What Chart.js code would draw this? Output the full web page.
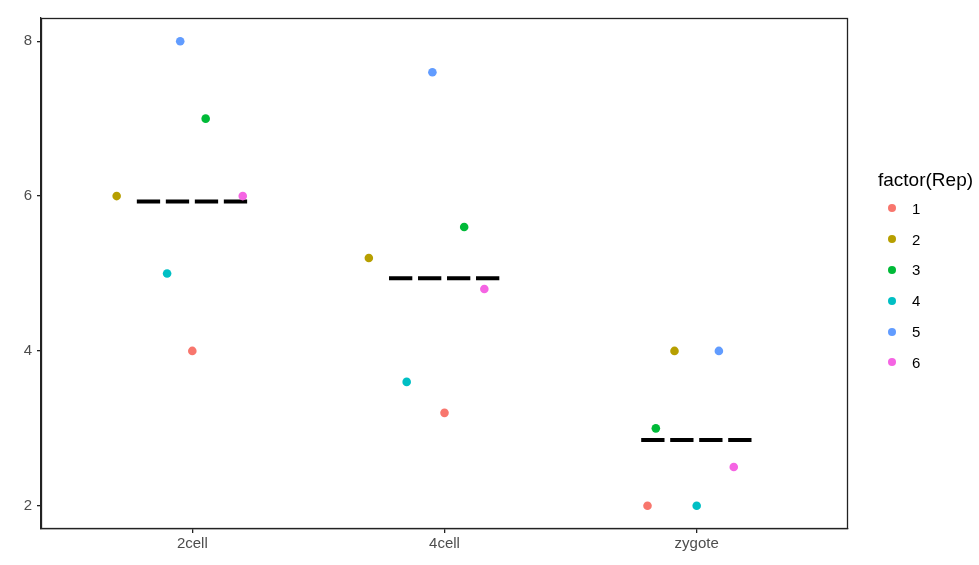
<!DOCTYPE html>
<html>
<head>
<meta charset="utf-8">
<script src="https://cdn.jsdelivr.net/npm/chart.js@4"></script>
<style>
  body { margin: 0; background: #fff; font-family: "Liberation Sans", Arial, sans-serif; }
  #wrap { position: relative; width: 979px; height: 565px; }
  #legend { position: absolute; left: 0; top: 0; color: #000; }
  #legend .title { position: absolute; left: 878px; top: 170px; font-size: 19px; line-height: 20px; white-space: nowrap; }
  #legend .item { position: absolute; left: 888px; height: 20px; display: flex; align-items: center; font-size: 15px; }
  #legend .dot { width: 8px; height: 8px; border-radius: 50%; margin-right: 16px; }
</style>
</head>
<body>
<div id="wrap">
  <canvas id="dot_chart" width="979" height="565"></canvas>
  <div id="legend"></div>
</div>
<script>
// categories and reps
const stages = ['2cell', '4cell', 'zygote'];
const reps = ['1', '2', '3', '4', '5', '6'];
const repColors = ['#F8766D', '#B79F00', '#00BA38', '#00BFC4', '#619CFF', '#F564E3'];

// values per rep, one entry per stage
const rep1 = [4.0, 3.2, 2.0];
const rep2 = [6.0, 5.2, 4.0];
const rep3 = [7.0, 5.6, 3.0];
const rep4 = [5.0, 3.6, 2.0];
const rep5 = [8.0, 7.6, 4.0];
const rep6 = [6.0, 4.8, 2.5];

// horizontal jitter, per rep
const jit1 = [0.00, 0.00, -0.195];
const jit2 = [-0.30, -0.30, -0.088];
const jit3 = [0.053, 0.078, -0.162];
const jit4 = [-0.10, -0.15, 0.00];
const jit5 = [-0.048, -0.048, 0.088];
const jit6 = [0.20, 0.158, 0.147];

// summary line per stage
const stageMean = [5.93, 4.94, 2.85];

const yTicks = [2, 4, 6, 8];

const repValues = [rep1, rep2, rep3, rep4, rep5, rep6];
const repJitter = [jit1, jit2, jit3, jit4, jit5, jit6];

const datasets = [];

repValues.forEach((vals, r) => {
    datasets.push({
        type: 'scatter',
        label: reps[r],
        data: vals.map((v, i) => ({ x: i + 1 + repJitter[r][i], y: v })),
        backgroundColor: repColors[r],
        borderWidth: 0,
        pointRadius: 4.3,
        pointHoverRadius: 4.3
    });
});

stageMean.forEach((m, i) => {
    datasets.push({
        type: 'line',
        label: 'mean ' + stages[i],
        data: [{ x: i + 1 - 0.22, y: m }, { x: i + 1 + 0.22, y: m }],
        borderColor: '#000',
        borderWidth: 4,
        borderDash: [23.3, 5.7],
        pointRadius: 0,
        fill: false
    });
});

// panel border on all four sides
const panelBorder = {
    id: 'panelBorder',
    afterDraw(chart) {
        const a = chart.chartArea;
        const ctx = chart.ctx;
        ctx.save();
        ctx.strokeStyle = '#222';
        ctx.lineWidth = 1.3;
        ctx.strokeRect(a.left + 0.5, a.top + 0.5, a.right - a.left - 1, a.bottom - a.top - 1);
        ctx.restore();
    }
};

new Chart(document.getElementById('dot_chart').getContext('2d'), {
    data: { datasets: datasets },
    options: {
        responsive: false,
        animation: false,
        layout: { padding: { top: 18, right: 131, left: 0, bottom: 0 } },
        plugins: {
            legend: { display: false },
            tooltip: { enabled: false }
        },
        scales: {
            x: {
                type: 'linear',
                min: 0.4,
                max: 3.6,
                afterBuildTicks: s => { s.ticks = [1, 2, 3].map(v => ({ value: v })); },
                afterFit: s => { s.height = 36; },
                grid: { drawOnChartArea: false, drawTicks: true, tickLength: 4, color: '#222', lineWidth: 1.3 },
                border: { display: true, color: '#222', width: 1.3 },
                ticks: {
                    color: '#4D4D4D',
                    font: { family: 'Liberation Sans', size: 15 },
                    padding: 2,
                    callback: v => stages[v - 1]
                }
            },
            y: {
                type: 'linear',
                min: 1.7,
                max: 8.3,
                afterBuildTicks: s => { s.ticks = yTicks.map(v => ({ value: v })); },
                afterFit: s => { s.width = 41; },
                grid: { drawOnChartArea: false, drawTicks: true, tickLength: 4, color: '#222', lineWidth: 1.3 },
                border: { display: true, color: '#222', width: 1.3 },
                ticks: {
                    color: '#4D4D4D',
                    font: { family: 'Liberation Sans', size: 15 },
                    padding: 5
                }
            }
        }
    },
    plugins: [panelBorder]
});

// legend
const legend = document.getElementById('legend');
legend.innerHTML = '<div class="title">factor(Rep)</div>' +
    reps.map((r, i) =>
        '<div class="item" style="top:' + (198.3 + i * 30.8) + 'px"><span class="dot" style="background:' + repColors[i] + '"></span>' + r + '</div>'
    ).join('');
</script>
</body>
</html>
